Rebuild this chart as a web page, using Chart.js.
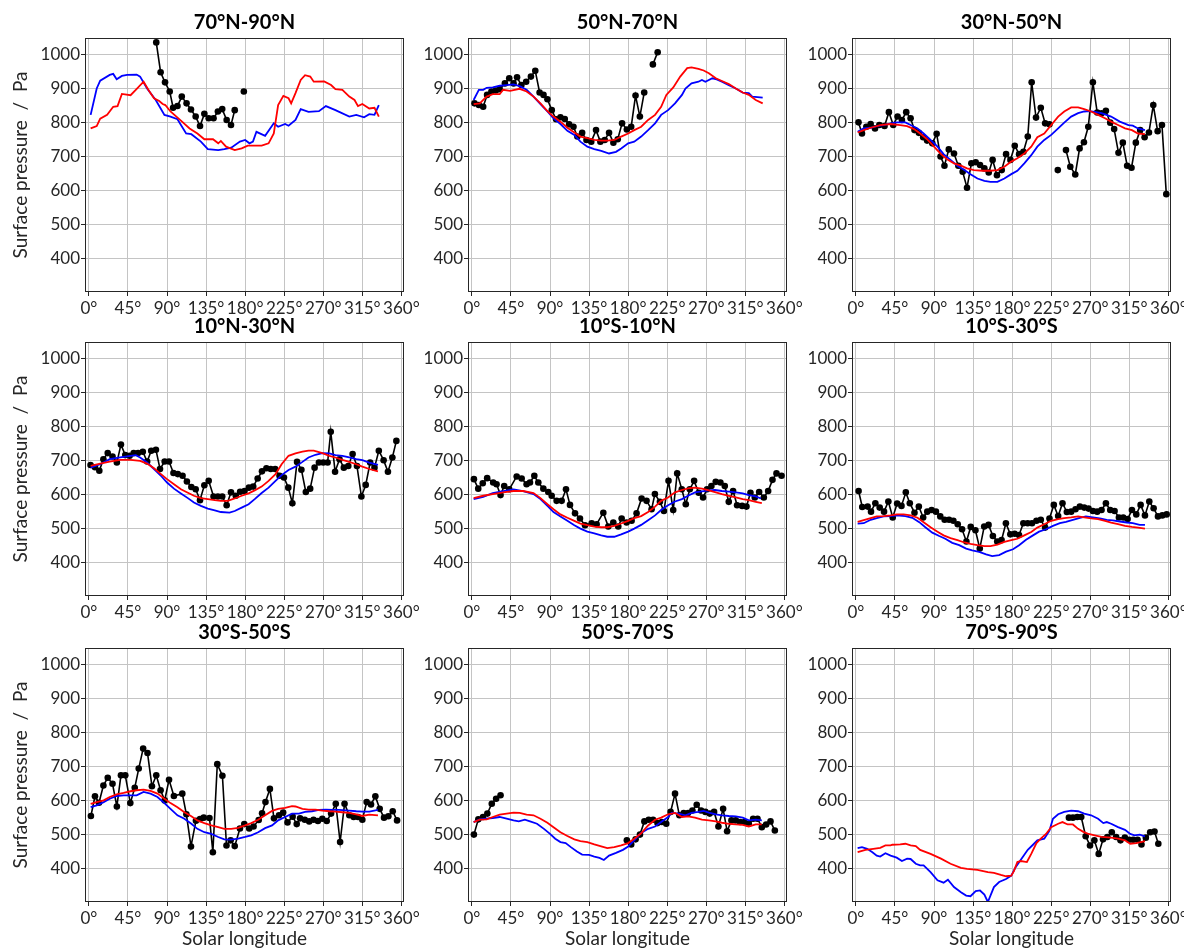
<!DOCTYPE html>
<html>
<head>
<meta charset="utf-8">
<script src="https://cdn.jsdelivr.net/npm/chart.js@4.4.1/dist/chart.umd.min.js"></script>
<style>
  body { margin: 0; background: #fff; width: 1184px; height: 951px; position: relative; overflow: hidden; }
  canvas { position: absolute; }
</style>
</head>
<body>
<script>
// axes
var xTicks = [0, 45, 90, 135, 180, 225, 270, 315, 360];
var yTicks = [400, 500, 600, 700, 800, 900, 1000];
var xTitle = "Solar longitude";
var yTitle = "Surface pressure  /  Pa";
var titles = ["70°N-90°N", "50°N-70°N", "30°N-50°N", "10°N-30°N", "10°S-10°N",
              "10°S-30°S", "30°S-50°S", "50°S-70°S", "70°S-90°S"];

// each series is [Ls, pressure]; null pressure = gap in the observations
var blueN70 = [[2,823],[9,901],[13,924],[24,941],[28,944],[32,928],[38,938],[44,941],[55,942],[59,936],[67,901],[77,867],[87,823],[94,818],[102,810],[112,768],[118,766],[129,744],[137,722],[149,719],[156,722],[164,726],[174,744],[180,749],[185,739],[189,744],[193,773],[203,761],[213,798],[218,788],[226,796],[230,791],[238,808],[244,840],[253,832],[265,834],[273,849],[284,837],[300,818],[308,823],[317,816],[323,825],[329,823],[334,852]];
var redN70 = [[2,783],[9,790],[13,812],[21,823],[28,847],[33,849],[38,885],[48,881],[54,897],[63,921],[69,895],[75,872],[81,864],[85,855],[88,852],[94,833],[106,806],[116,783],[125,768],[133,751],[143,751],[149,739],[152,746],[158,729],[168,719],[176,724],[183,732],[191,732],[199,732],[207,739],[213,768],[218,852],[224,879],[230,872],[233,857],[238,887],[244,926],[249,940],[255,936],[259,921],[271,922],[279,911],[284,899],[292,897],[300,877],[306,867],[310,849],[315,855],[323,842],[329,844],[334,818]];
var obsN70 = [[77.6,1037],[82.6,949],[87.7,919],[93.1,892],[97,844],[102,849],[107,877],[112.5,857],[117.6,839],[123,818],[128,790],[133,826],[138,813],[143.6,813],[148.6,833],[153.6,840],[158.7,808],[163.7,793],[168,837],[173,null],[178.5,892]];

var blueN50 = [[2,867],[8,897],[13,897],[17,903],[24,904],[32,909],[40,911],[48,913],[55,908],[63,897],[71,877],[79,855],[87,833],[94,813],[102,796],[110,776],[118,764],[125,744],[133,729],[141,722],[149,717],[158,709],[166,714],[172,724],[180,739],[187,744],[195,759],[203,778],[211,798],[218,823],[226,837],[234,857],[242,882],[246,901],[253,916],[261,921],[265,926],[269,921],[277,931],[282,928],[288,921],[296,911],[304,901],[312,889],[319,887],[323,877],[335,874]];
var redN50 = [[2,855],[9,857],[17,877],[24,884],[32,884],[36,897],[44,894],[55,900],[63,892],[71,877],[79,857],[87,834],[94,818],[102,803],[110,785],[118,771],[125,759],[133,754],[141,749],[149,747],[156,747],[164,749],[172,759],[180,768],[187,778],[195,788],[203,808],[211,823],[218,847],[224,882],[232,904],[240,936],[248,961],[253,963],[261,959],[267,954],[273,946],[281,931],[288,923],[296,914],[304,901],[312,889],[319,882],[327,867],[335,857]];
var obsN50 = [[3,857],[8,852],[13,847],[17.5,882],[22.5,892],[27.5,895],[32,899],[38,916],[43,931],[48,916],[52,934],[57,911],[62.5,921],[68,936],[73,953],[78,889],[82.5,882],[87,869],[92,837],[97,810],[102,816],[107,811],[112,795],[117,788],[121.5,759],[127,770],[132,749],[137.5,744],[143,778],[148,744],[153,749],[158,770],[163,741],[168,751],[173,798],[178.5,780],[183.5,788],[188.5,880],[193.5,818],[198.5,889],[203,null],[208.5,972],[214,1008]];

var blueN30 = [[2,773],[9,783],[17,785],[24,790],[32,793],[40,798],[47,801],[57,801],[63,793],[71,783],[78,768],[86,749],[94,729],[101,707],[109,690],[117,673],[125,660],[132,648],[140,635],[148,628],[155,625],[163,625],[171,635],[179,648],[186,658],[194,680],[202,704],[209,729],[217,749],[225,764],[233,783],[240,800],[248,818],[256,828],[263,833],[269,834],[275,832],[283,828],[294,818],[304,803],[314,793],[319,791],[325,783],[333,778]];
var redN30 = [[2,771],[9,778],[17,785],[28,793],[40,796],[51,793],[59,790],[67,781],[74,768],[82,751],[90,729],[98,707],[105,692],[113,680],[121,673],[128,665],[136,660],[146,658],[155,658],[163,660],[171,670],[179,685],[186,695],[194,709],[202,729],[209,757],[217,768],[225,793],[233,818],[240,833],[248,845],[256,845],[263,840],[271,833],[279,823],[287,813],[294,803],[302,793],[310,783],[318,778],[325,768],[333,766]];
var obsN30 = [[3,801],[7,768],[12,788],[17,796],[22,783],[27,793],[33,790],[38,831],[43,793],[48,818],[53,808],[58,831],[63,813],[67.5,778],[72.5,770],[77.5,757],[82,747],[88,739],[93,767],[97.5,700],[102,673],[107,721],[113,709],[118,673],[123,655],[128,608],[133,680],[138,683],[143,675],[148,665],[153,653],[157.5,690],[162.5,645],[168,660],[173,707],[178,690],[183,732],[188,707],[193,714],[198,759],[202.5,919],[207.5,815],[213,844],[218,798],[223,795],[228,null],[232.6,660],[237,null],[242,719],[247,670],[252.7,647],[257.7,724],[262.7,742],[267.7,788],[273,919],[278,830],[283,828],[288,835],[293,800],[297.5,781],[302.5,711],[307.5,741],[312.5,673],[317.5,667],[322.5,741],[327.5,778],[332.6,757],[337.6,771],[342.6,852],[347.6,775],[352.6,793],[357.6,589]];

var blueN10 = [[2,679],[13,689],[24,704],[36,709],[48,714],[54,716],[59,709],[67,694],[75,675],[83,655],[90,635],[98,617],[106,603],[114,589],[121,576],[129,566],[137,558],[145,553],[152,548],[162,546],[168,551],[176,561],[184,571],[191,586],[199,604],[207,620],[215,640],[222,657],[230,672],[238,682],[246,696],[253,709],[261,717],[269,722],[277,721],[284,716],[292,714],[300,709],[308,704],[315,701],[323,694],[333,687]];
var redN10 = [[2,684],[13,691],[24,697],[36,702],[48,702],[59,699],[67,691],[75,677],[83,660],[90,645],[98,630],[106,615],[114,605],[121,596],[129,589],[137,586],[145,583],[152,581],[160,581],[168,588],[176,596],[184,603],[191,612],[199,623],[207,640],[215,660],[222,689],[230,714],[238,721],[246,726],[253,729],[259,729],[269,722],[277,714],[284,709],[292,702],[300,696],[308,689],[315,682],[323,675],[333,668]];
var obsN10 = [[1.9,687],[7,680],[12,670],[16.7,704],[21.7,722],[27.2,712],[32.2,694],[36.9,747],[41.9,716],[46.9,714],[51.6,722],[56.6,722],[62.1,726],[67.1,697],[71.8,729],[77.2,732],[81.9,675],[87.3,697],[92.3,697],[97.4,663],[102.4,660],[107.9,655],[112.9,638],[118,622],[123,615],[128,583],[133,627],[138,640],[143.6,594],[148.6,594],[153.6,594],[158.7,568],[163.7,606],[169.2,596],[174.2,608],[179.3,610],[184.3,620],[189.3,623],[194.4,647],[199.4,668],[204.5,677],[209.5,675],[214.6,675],[219.6,655],[224.7,650],[229.7,620],[234.4,574],[239.8,696],[244.8,673],[249.9,607],[254.9,617],[260,679],[265,694],[270,694],[275,694],[278.6,785],[283.6,667],[288.7,704],[293.7,679],[298.8,684],[303.8,719],[308.8,684],[313.9,594],[318.9,628],[324,694],[329,679],[334,729],[339.5,701],[344.5,667],[349.6,709],[354.2,758]];

var blueEq = [[2,586],[13,593],[24,604],[36,610],[48,615],[59,610],[71,601],[79,586],[87,566],[94,548],[102,535],[110,522],[118,509],[125,499],[133,490],[141,485],[149,479],[156,475],[164,475],[172,482],[180,490],[187,499],[195,510],[203,524],[211,538],[218,554],[226,568],[234,579],[242,586],[249,596],[257,606],[265,609],[273,612],[280,613],[288,610],[296,608],[304,606],[312,603],[319,598],[327,594],[333,588]];
var redEq = [[2,589],[13,596],[24,601],[36,606],[48,610],[59,610],[71,604],[79,589],[87,571],[94,556],[102,541],[110,531],[118,522],[125,514],[133,509],[141,505],[149,503],[156,503],[164,507],[172,514],[180,522],[187,530],[195,536],[203,548],[211,564],[218,581],[226,591],[234,606],[242,613],[249,618],[257,620],[265,617],[273,612],[280,607],[288,601],[296,596],[304,591],[312,586],[319,583],[327,578],[334,574]];
var obsEq = [[2.3,645],[7.3,617],[12.5,633],[17.6,648],[24.5,635],[28.4,630],[33,598],[37.2,625],[43,615],[51.6,653],[57.3,647],[63,630],[66.9,635],[71.9,655],[76.5,635],[82.3,617],[88,607],[91.9,596],[97.6,581],[103.4,581],[108.4,615],[113,569],[118.8,544],[124.5,529],[130.3,509],[138,515],[143.7,512],[151.4,546],[157.1,505],[162.9,517],[168.6,505],[172.5,529],[178.2,517],[184,522],[189.7,544],[195.5,588],[201.2,581],[207,556],[210.8,601],[216.6,578],[221.2,551],[226.5,640],[231.9,554],[236.5,662],[241.8,615],[246.4,571],[251,615],[256,640],[261.3,605],[266.3,591],[270.9,615],[275.9,625],[280.9,637],[286.3,635],[291.3,625],[295.9,578],[300.9,610],[305.5,568],[311.3,566],[316.3,564],[320.9,605],[325.9,591],[330.9,607],[336.3,591],[341.3,610],[346.3,643],[350.9,662],[356.7,655]];

var blueS10 = [[2,514],[9,515],[17,525],[24,530],[32,535],[40,536],[47,538],[57,536],[65,531],[73,518],[80,503],[88,487],[96,477],[103,469],[111,457],[119,450],[127,440],[134,435],[142,430],[150,423],[157,418],[165,421],[173,431],[181,438],[188,450],[196,466],[204,479],[211,490],[219,497],[227,507],[235,515],[242,519],[250,525],[258,531],[265,535],[273,532],[281,529],[289,525],[296,523],[304,520],[312,517],[319,515],[327,510],[333,510]];
var redS10 = [[2,519],[9,524],[17,530],[24,535],[32,536],[40,538],[47,541],[55,541],[63,538],[71,531],[78,518],[86,503],[94,490],[101,479],[109,471],[117,465],[125,458],[132,454],[140,450],[148,447],[155,447],[163,452],[171,460],[179,465],[186,469],[194,479],[202,489],[209,502],[217,512],[225,522],[233,527],[240,530],[248,532],[256,535],[263,532],[271,529],[279,527],[287,522],[294,517],[302,512],[310,507],[318,504],[325,502],[333,499]];
var obsS10 = [[3.1,610],[7.3,563],[13.5,564],[17.4,549],[22.4,574],[27.4,561],[32.4,549],[37.4,579],[42.4,532],[47.5,573],[52.5,566],[57.5,606],[62.1,574],[67.5,546],[72.5,564],[77.5,532],[82.2,549],[87.2,554],[92.2,549],[97.2,535],[102.2,525],[107.3,525],[112.3,522],[117.3,512],[122.3,497],[127.3,461],[132.3,504],[137.7,494],[142.7,440],[147.8,505],[152.8,510],[157.8,477],[162.8,461],[167.8,465],[172.8,515],[177.9,482],[182.9,484],[187.9,480],[192.9,515],[197.9,515],[202.9,515],[208,522],[213,525],[218,502],[223,529],[228,569],[233,536],[238,574],[243,548],[248,549],[253,556],[258,564],[263,561],[268,558],[273,551],[278,549],[283,554],[288,574],[293,554],[298,551],[303,532],[308,532],[313,527],[318,554],[323,541],[328,569],[333,538],[338,579],[343,559],[348,535],[353,538],[358,541]];

var blueS30 = [[2,580],[9,585],[17,595],[24,605],[32,613],[40,615],[48,615],[55,615],[63,625],[71,620],[79,610],[87,592],[94,575],[102,556],[110,546],[118,531],[125,516],[133,506],[141,501],[149,492],[156,485],[164,484],[172,487],[180,492],[187,497],[195,506],[203,518],[211,526],[218,541],[226,551],[234,561],[242,561],[249,566],[257,568],[265,572],[273,573],[281,572],[288,572],[300,570],[308,568],[315,567],[323,567],[333,572]];
var redS30 = [[2,590],[9,595],[17,600],[24,610],[32,618],[40,622],[48,627],[55,630],[63,632],[71,628],[79,620],[87,605],[94,592],[102,580],[110,565],[118,553],[125,541],[133,533],[141,526],[149,521],[156,516],[164,516],[172,519],[180,526],[187,533],[195,543],[203,556],[211,569],[218,575],[226,578],[234,583],[238,582],[246,575],[253,573],[261,573],[269,570],[277,568],[284,567],[292,565],[300,563],[308,559],[315,554],[323,558],[333,556]];
var obsS30 = [[2.3,554],[7,612],[11.6,593],[16.7,644],[21.7,667],[27.2,649],[32.2,582],[36.9,674],[41.9,674],[47.7,592],[52.8,637],[57.4,694],[62.5,753],[67.5,740],[72.6,642],[77.6,674],[82.6,630],[87.3,600],[92.3,661],[97.9,613],[107.6,620],[112.3,559],[117.6,464],[123.3,540],[128,545],[132.3,549],[138.9,548],[142.8,447],[147.9,707],[153.8,673],[158.5,467],[163.3,482],[168,465],[174,517],[179,530],[184.7,517],[189.7,523],[195.6,542],[199.5,562],[203.4,595],[208.5,634],[213.2,547],[219,556],[223.8,564],[228.8,535],[234.7,552],[239.4,530],[243.3,547],[248.7,543],[253.8,538],[258.8,543],[263.8,539],[268.9,546],[274,539],[279,561],[284.4,590],[289.4,477],[294.5,590],[300,556],[305,551],[310,551],[315,543],[320,595],[325,588],[330,612],[335,575],[340,549],[345,553],[350,568],[355,541]];

var blueS50 = [[2,536],[9,544],[17,546],[24,548],[32,551],[40,546],[48,541],[54,538],[61,543],[67,538],[75,531],[83,516],[90,501],[96,487],[102,477],[108,474],[114,462],[121,449],[127,440],[135,439],[141,434],[147,430],[152,424],[158,437],[166,445],[174,454],[180,464],[187,482],[195,504],[203,516],[211,523],[218,536],[226,551],[230,563],[238,561],[246,556],[253,563],[261,566],[267,569],[273,564],[281,559],[288,556],[296,554],[304,553],[312,549],[319,541],[327,543],[334,541]];
var redS50 = [[2,536],[9,543],[17,544],[24,551],[32,558],[40,561],[48,564],[55,563],[63,558],[71,556],[79,546],[87,534],[94,521],[102,506],[110,495],[118,485],[125,480],[133,477],[141,470],[149,464],[156,459],[164,462],[172,467],[180,474],[187,487],[195,503],[203,526],[211,543],[218,549],[226,559],[234,563],[242,551],[249,553],[257,549],[265,543],[273,541],[281,538],[288,534],[296,531],[304,529],[312,528],[319,523],[327,529],[334,529]];
var obsS50 = [[2.3,499],[7.4,544],[12.8,551],[17.8,561],[22.9,590],[27.9,605],[33,615],[100,null],[178.5,482],[183.5,470],[188.6,485],[193.6,499],[198.7,538],[203.7,543],[208.7,543],[213.8,533],[218.8,536],[223.9,531],[228.9,566],[234,620],[239,556],[244,563],[249,563],[254,570],[259,587],[264,570],[269,566],[274,561],[279,566],[284,523],[289.4,575],[294,509],[299,541],[304,541],[309,536],[314,536],[319,531],[324,546],[329,546],[334,521],[339,529],[344,538],[349,511]];

var blueS70 = [[2,459],[7,462],[13,457],[19,447],[24,437],[28,434],[34,444],[40,437],[47,431],[53,421],[59,428],[63,427],[69,413],[74,408],[78,408],[86,388],[94,364],[101,357],[106,366],[113,344],[121,329],[127,319],[132,317],[138,332],[143,334],[148,322],[152,300],[159,344],[165,359],[173,368],[179,378],[184,403],[190,425],[198,454],[204,469],[209,482],[217,487],[223,511],[227,546],[233,559],[240,566],[248,570],[256,568],[263,561],[271,556],[279,546],[285,533],[289,536],[294,531],[302,521],[310,513],[316,501],[321,497],[327,499],[333,494]];
var redS70 = [[2,447],[11,454],[20,457],[28,460],[34,467],[40,467],[42,469],[51,470],[57,472],[63,467],[69,465],[74,454],[86,442],[98,428],[109,413],[121,401],[128,398],[140,395],[152,388],[159,386],[167,380],[173,376],[179,378],[182,391],[186,418],[190,421],[197,418],[202,442],[208,474],[213,487],[219,501],[225,521],[233,531],[238,536],[244,529],[250,529],[256,516],[262,507],[267,502],[275,497],[283,492],[294,490],[302,487],[310,482],[316,472],[323,474],[333,480]];
var obsS70 = [[245.4,549],[250,549],[255,551],[259.6,551],[264.7,494],[269.7,467],[274.7,482],[279.7,442],[284.7,485],[289.7,492],[294.8,506],[299.8,492],[304.8,482],[309.8,490],[314.8,484],[319.4,484],[324.5,484],[329,470],[334,490],[339,506],[344,508],[348.4,472]];

var panelBlue = [blueN70, blueN50, blueN30, blueN10, blueEq, blueS10, blueS30, blueS50, blueS70];
var panelRed = [redN70, redN50, redN30, redN10, redEq, redS10, redS30, redS50, redS70];
var panelObs = [obsN70, obsN50, obsN30, obsN10, obsEq, obsS10, obsS30, obsS50, obsS70];

// page layout of the 3x3 grid (plot boxes)
var plotLeft = [85, 468, 852];
var plotTop = [38, 342, 648];
var plotW = 319, plotH = 254;
var yAxisW = 85, topBlock = 29, padRight = 22;
var FONT = "Lato, 'DejaVu Sans', sans-serif";

function toPoints(pairs) {
  return pairs.map((p) => ({ x: p[0], y: p[1] }));
}

// matplotlib-like box around the plot area
var frame = {
  id: "frame",
  afterDatasetsDraw(chart) {
    let a = chart.chartArea;
    let ctx = chart.ctx;
    ctx.save();
    ctx.strokeStyle = "#262626";
    ctx.lineWidth = 1;
    ctx.strokeRect(Math.round(a.left) + 0.5, Math.round(a.top) + 0.5,
                   Math.round(a.right - a.left) - 1, Math.round(a.bottom - a.top) - 1);
    ctx.restore();
  },
};

titles.forEach(function (title, i) {
  let r = Math.floor(i / 3);
  let c = i % 3;
  let xAxisH = r === 2 ? 48 : 30;
  let canvas = document.createElement("canvas");
  canvas.width = yAxisW + plotW + padRight;
  canvas.height = topBlock + plotH + xAxisH;
  canvas.style.left = plotLeft[c] - yAxisW + "px";
  canvas.style.top = plotTop[r] - topBlock + "px";
  document.body.appendChild(canvas);

  let gridOpts = { color: "#c4c4c4", lineWidth: 1, tickLength: 4, tickColor: "#262626", tickWidth: 1 };

  new Chart(canvas.getContext("2d"), {
    type: "line",
    data: {
      datasets: [
        { data: toPoints(panelRed[i]), borderColor: "#ff0000", borderWidth: 1.8, pointRadius: 0, order: 0 },
        { data: toPoints(panelBlue[i]), borderColor: "#0000ff", borderWidth: 1.8, pointRadius: 0, order: 1 },
        {
          data: toPoints(panelObs[i]),
          borderColor: "#000",
          borderWidth: 1.6,
          pointRadius: 3.3,
          pointBackgroundColor: "#000",
          pointBorderWidth: 0,
          spanGaps: false,
          order: 2,
        },
      ],
    },
    plugins: [frame],
    options: {
      responsive: false,
      animation: false,
      events: [],
      layout: { padding: { top: 2, left: 0, right: padRight, bottom: 0 } },
      plugins: {
        legend: { display: false },
        tooltip: { enabled: false },
        title: {
          display: true,
          text: title,
          fullSize: false,
          color: "#000",
          font: { family: FONT, size: 20, weight: "bold" },
          padding: { top: 0, bottom: 3 },
        },
      },
      scales: {
        x: {
          type: "linear",
          min: -4.5,
          max: 363,
          afterBuildTicks: (s) => { s.ticks = xTicks.map((v) => ({ value: v })); },
          afterFit: (s) => { s.height = xAxisH; },
          ticks: {
            autoSkip: false,
            maxRotation: 0,
            minRotation: 0,
            padding: 2,
            color: "#262626",
            font: { family: FONT, size: 17 },
            callback: (v) => v + "°",
          },
          grid: gridOpts,
          border: { display: false },
          title: {
            display: r === 2,
            text: xTitle,
            color: "#262626",
            font: { family: FONT, size: 19 },
            padding: { top: 0, bottom: 0 },
          },
        },
        y: {
          type: "linear",
          min: 300,
          max: 1050,
          afterBuildTicks: (s) => { s.ticks = yTicks.map((v) => ({ value: v })); },
          afterFit: (s) => { s.width = yAxisW; },
          ticks: {
            padding: 1,
            color: "#262626",
            font: { family: FONT, size: 17 },
            callback: (v) => String(v),
          },
          grid: gridOpts,
          border: { display: false },
          title: {
            display: c === 0,
            text: yTitle,
            color: "#262626",
            font: { family: FONT, size: 19 },
            padding: { top: 9, bottom: 0 },
          },
        },
      },
    },
  });
});
</script>
</body>
</html>
